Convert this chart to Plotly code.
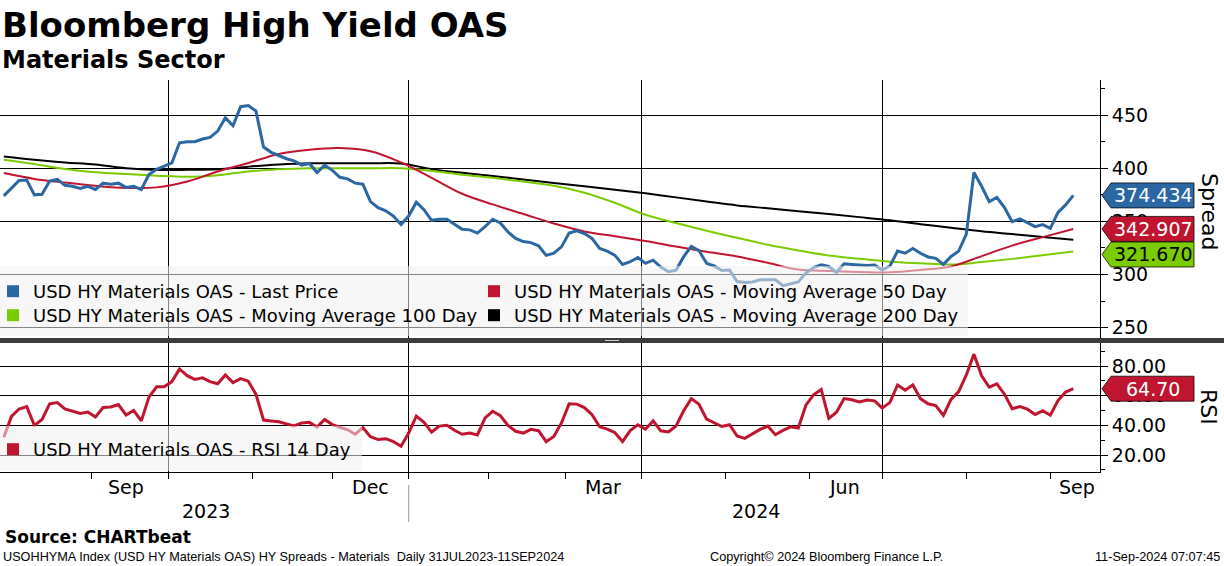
import pandas as pd
import plotly.graph_objects as go

# ---------------- data ----------------
HOLIDAYS = ["2023-09-04", "2023-11-23", "2023-12-25", "2024-01-01", "2024-01-15",
            "2024-02-19", "2024-03-29", "2024-05-27", "2024-06-19", "2024-07-04",
            "2024-09-02"]
START, END, AXIS_END = "2023-07-31", "2024-09-11", "2024-09-20"

cal = pd.bdate_range(START, AXIS_END)
cal = cal[~cal.isin(pd.to_datetime(HOLIDAYS))]
trading = cal[cal <= pd.Timestamp(END)]
PRICE_DATES = trading[1::2]
MA_DATES = trading[1::8]

PRICE = [374, 381, 388.5, 389, 375, 375.5, 388, 389.5, 384, 383, 381, 383, 380, 386, 385,
         386, 382, 383, 380, 394, 399, 402, 405, 424, 425, 425, 427.5, 429, 435, 447.5,
         440, 458, 459, 454, 420, 415, 412, 409, 407, 403, 404.5, 396, 403, 398, 391.5,
         390, 386, 385, 368.6, 363, 360, 355, 347, 355, 368, 361, 351, 352, 352, 347,
         342.5, 342, 339, 345, 352, 348.5, 340, 334, 331, 330, 327, 318, 320, 326, 339,
         341, 338.5, 334, 324.5, 322, 318, 309.5, 312, 316, 310.5, 313.5, 307, 302.6, 304, 316.8,
         326.5, 322.5, 310.5, 308, 303.8, 304.2, 293.3, 292.5, 293, 295, 295, 295, 289.5, 291.2, 293,
         301.3, 306.5, 309, 307.5, 302, 310, 309.5, 308.8, 308.5, 309, 304.2, 308, 322, 320, 324.5,
         320, 316.5, 315.2, 309.5, 317, 322, 338, 396, 383, 368.6, 372.5, 363, 349.7, 352.3, 348.8,
         345, 347, 343.5, 358.5, 365.5, 374.434]

RSI = [32, 46, 51, 52.6, 40, 44, 54.5, 55.3, 51, 49.5, 48, 49, 45.6, 52, 52.4,
       54, 47, 50, 43, 59, 66, 66, 69.5, 78, 73.5, 71, 72, 69.5, 68, 74,
       68.8, 71.5, 69.8, 61, 43.6, 43, 42.4, 41, 39.6, 41.6, 42, 38.8, 44, 40.5, 39,
       37, 34, 38.5, 32.4, 30.4, 31, 29, 25.9, 34.8, 46.2, 42, 35.4, 39.5, 40, 36.7,
       34, 34.8, 33.5, 45, 49.5, 46.5, 40, 36, 34.8, 37.3, 36.4, 29, 32.5, 41.6, 54.5,
       54.3, 52, 47.2, 39, 37.5, 35, 29, 36.5, 40.3, 37.4, 43, 36.3, 35.5, 39.6, 49.8,
       58, 54.2, 44.2, 41.8, 39.2, 40.4, 32.8, 31.2, 34.3, 37.3, 39.5, 33.7, 36.6, 39, 38.2,
       53.6, 60.6, 64.2, 44.7, 48.8, 58, 57.2, 55.7, 57.1, 56.5, 51.6, 55.5, 67.2, 63.7, 67.2,
       58, 54.5, 53.3, 46.7, 57.5, 62.7, 74, 88, 73.4, 65.7, 67.9, 61, 51.2, 52.6, 50.9,
       47.3, 49.8, 46.8, 56.7, 62.4, 64.7]

MA50 = [395.5, 390, 386.5, 383.5, 381.5, 382, 387.5, 397, 405, 413.5, 417.5, 419,
        416, 405.5, 391, 376, 366, 357, 348, 340.5, 336, 331.6, 326.3, 321.3, 317, 311,
        304.6, 303.2, 302.4, 302, 304.2, 307.5, 317.3, 327.2, 335.2, 342.907]
MA100 = [408, 404, 399.3, 396.3, 394.5, 393, 392, 393.5, 397, 399, 400, 400,
         400, 400, 397.5, 394, 391, 387.5, 383.5, 377, 367.5, 356.2, 348.4, 341.2, 334.5, 328,
         322.6, 317.8, 314.8, 312, 310.5, 309.3, 311.7, 314.7, 318.2, 321.670]
MA200 = [411, 408, 405.5, 403.5, 400, 398.4, 398.5, 399, 401.5, 403.5, 404.7, 404.7,
         404.7, 404.5, 399.2, 395.7, 392.8, 389.5, 386.2, 383, 379.7, 376.4, 372.6, 368.7, 365, 362.3,
         359.6, 356.9, 354, 351, 347.4, 344, 340.7, 338, 335.3, 332.6]

SERIES_NAMES = ["USD HY Materials OAS - Last Price",
                "USD HY Materials OAS - Moving Average 50 Day",
                "USD HY Materials OAS - Moving Average 100 Day",
                "USD HY Materials OAS - Moving Average 200 Day"]
RSI_NAME = "USD HY Materials OAS - RSI 14 Day"

SPREAD_TICKS = [250, 300, 350, 400, 450]
RSI_TICKS = [20, 40, 60, 80]
MONTH_LABELS = [("2023-09-15", "Sep"), ("2023-12-15", "Dec"), ("2024-03-15", "Mar"),
                ("2024-06-14", "Jun"), ("2024-09-12", "Sep")]
YEAR_LABELS = [("2023-10-16", "2023"), ("2024-05-13", "2024")]

# ---------------- styling ----------------
BLUE, RED, GREEN, BLACK = "#2a67a3", "#c0152f", "#7acc00", "#000000"
FONT = "DejaVu Sans"
W, H = 1224, 566
ML, MR, MT, MB = 0, 124, 80, 94
PW, PH = W - ML - MR, H - MT - MB


def px(x):  # pixel -> paper x
    return (x - ML) / PW


def py(y):  # pixel -> paper y
    return (H - MB - y) / PH


# axis helpers (first trading day of each month / quarter)
months = pd.Series(cal).groupby([cal.year, cal.month]).min()
month_starts = [d for d in months if d >= pd.Timestamp("2023-09-01")]
quarter_starts = [d for d in month_starts if d.month in (1, 4, 7, 10)]

fig = go.Figure()

fig.add_trace(go.Scatter(x=MA_DATES, y=MA200, mode="lines", line=dict(color=BLACK, width=2),
                         line_shape="spline", showlegend=False, xaxis="x", yaxis="y"))
fig.add_trace(go.Scatter(x=MA_DATES, y=MA100, mode="lines", line=dict(color=GREEN, width=2),
                         line_shape="spline", showlegend=False, xaxis="x", yaxis="y"))
fig.add_trace(go.Scatter(x=MA_DATES, y=MA50, mode="lines", line=dict(color=RED, width=2),
                         line_shape="spline", showlegend=False, xaxis="x", yaxis="y"))
fig.add_trace(go.Scatter(x=PRICE_DATES, y=PRICE, mode="lines", line=dict(color=BLUE, width=3),
                         showlegend=False, xaxis="x", yaxis="y"))
fig.add_trace(go.Scatter(x=PRICE_DATES, y=RSI, mode="lines", line=dict(color=RED, width=3),
                         showlegend=False, xaxis="x2", yaxis="y2"))

# legend entries (square swatches), one small legend box per entry
IND = -7          # legend indentation (px)
TXT_OFF = 40 + IND
LEGEND_POS = [(33, 291), (514, 291), (33, 315), (514, 315)]  # text start x, row centre y (px)
legend_layout = {}
for i, (name, col, (tx, ty)) in enumerate(zip(SERIES_NAMES, [BLUE, RED, GREEN, BLACK],
                                               LEGEND_POS)):
    key = "legend" if i == 0 else f"legend{i + 2}"
    fig.add_trace(go.Scatter(x=[None], y=[None], mode="markers", name=name,
                             marker=dict(symbol="square", size=12, color=col),
                             legend=key, xaxis="x", yaxis="y"))
    legend_layout[key] = dict(x=max(px(tx - TXT_OFF), 0), xanchor="left", y=py(ty - 18),
                              yanchor="top", indentation=IND, bgcolor="rgba(0,0,0,0)",
                              font=dict(family=FONT, size=18, color="black"),
                              itemclick=False)
fig.add_trace(go.Scatter(x=[None], y=[None], mode="markers", name=RSI_NAME,
                         marker=dict(symbol="square", size=12, color=RED),
                         legend="legend2", xaxis="x2", yaxis="y2"))
legend_layout["legend2"] = dict(x=0, xanchor="left", y=py(449 - 18), yanchor="top",
                                indentation=IND, bgcolor="rgba(0,0,0,0)",
                                font=dict(family=FONT, size=18, color="black"),
                                itemclick=False)

rb = [dict(bounds=["sat", "mon"]), dict(values=HOLIDAYS)]
xcommon = dict(range=[START, AXIS_END], rangebreaks=rb, tickmode="array",
               tickvals=quarter_starts, showgrid=True, gridcolor="black", gridwidth=1,
               showticklabels=False, zeroline=False)

fig.update_layout(
    width=W, height=H, margin=dict(l=ML, r=MR, t=MT, b=MB, autoexpand=False),
    paper_bgcolor="white", plot_bgcolor="white",
    font=dict(family=FONT, color="black", size=18),
    xaxis=dict(**xcommon, anchor="y", ticks="", matches="x2"),
    xaxis2=dict(**xcommon, anchor="y2", ticks="outside", ticklen=6, tickcolor="black",
                showline=True, linecolor="black", linewidth=1,
                minor=dict(tickmode="array", tickvals=month_starts, ticks="outside",
                           ticklen=6, tickcolor="black", showgrid=False)),
    yaxis=dict(domain=[py(338), 1], range=[240.2, 483.1], side="right", anchor="x",
               tickmode="array", tickvals=SPREAD_TICKS, showgrid=True, gridcolor="black",
               gridwidth=1, ticks="outside", ticklen=7, tickcolor="black", showline=True,
               linecolor="black", linewidth=1, zeroline=False,
               tickfont=dict(family=FONT, size=19, color="black"),
               minor=dict(dtick=25, tick0=0, ticks="outside", ticklen=4, tickcolor="black",
                          showgrid=False)),
    yaxis2=dict(domain=[0, py(343)], range=[8.55, 95.5], side="right", anchor="x2",
                tickmode="array", tickvals=RSI_TICKS, ticktext=[f"{v:.2f}" for v in RSI_TICKS],
                showgrid=True, gridcolor="black", gridwidth=1, ticks="outside", ticklen=7,
                tickcolor="black", showline=True, linecolor="black", linewidth=1,
                zeroline=False, tickfont=dict(family=FONT, size=19, color="black"),
                minor=dict(dtick=10, tick0=0, ticks="outside", ticklen=4, tickcolor="black",
                           showgrid=False)),
    showlegend=True,
    hovermode=False,
    **legend_layout,
)

shapes = []
# translucent legend panels
shapes.append(dict(type="rect", xref="paper", yref="paper", x0=px(0), x1=px(968),
                   y0=py(336), y1=py(266), fillcolor="rgba(240,240,240,0.55)",
                   line=dict(width=0), layer="above"))
shapes.append(dict(type="rect", xref="paper", yref="paper", x0=px(0), x1=px(362),
                   y0=py(471), y1=py(426), fillcolor="rgba(240,240,240,0.55)",
                   line=dict(width=0), layer="above"))
# panel separator
shapes.append(dict(type="rect", xref="paper", yref="paper", x0=px(0), x1=px(W),
                   y0=py(343), y1=py(338), fillcolor="#3c3c3c", line=dict(width=0),
                   layer="above"))
shapes.append(dict(type="line", xref="paper", yref="paper", x0=px(605), x1=px(619),
                   y0=py(340.5), y1=py(340.5), line=dict(color="#c8c8c8", width=1),
                   layer="above"))
# year divider under the axis
shapes.append(dict(type="line", xref="x2", yref="paper", x0=quarter_starts[1],
                   x1=quarter_starts[1], y0=py(485), y1=py(522),
                   line=dict(color="#9a9a9a", width=1), layer="above"))


def tag(value, yref, fill, txtcol, text, dy=0):
    path = (f"M 2,{dy} L 11,{dy + 12.5} L 94,{dy + 12.5} L 94,{dy - 12.5} "
            f"L 11,{dy - 12.5} Z")
    shapes.append(dict(type="path", xref="paper", yref=yref, xsizemode="pixel",
                       ysizemode="pixel", xanchor=1, yanchor=value, path=path,
                       fillcolor=fill, line=dict(color="rgba(0,0,0,0.75)", width=1),
                       layer="above"))
    return dict(x=1, xref="paper", y=value, yref=yref, xanchor="center", yanchor="middle",
                xshift=53, yshift=dy, text=text, showarrow=False,
                font=dict(family=FONT, size=19, color=txtcol))


annotations = [
    tag(PRICE[-1], "y", BLUE, "white", f"{PRICE[-1]:.3f}"),
    tag(MA50[-1], "y", RED, "white", f"{MA50[-1]:.3f}"),
    tag(MA100[-1], "y", GREEN, "black", f"{MA100[-1]:.3f}", dy=-3),
    tag(RSI[-1], "y2", RED, "white", f"{RSI[-1]:.2f}"),
]

annotations += [
    dict(x=px(0), y=py(24.5), xref="paper", yref="paper", xanchor="left", yanchor="middle",
         text="<b>Bloomberg High Yield OAS</b>", showarrow=False,
         font=dict(family=FONT, size=34, color="black")),
    dict(x=px(0), y=py(60), xref="paper", yref="paper", xanchor="left", yanchor="middle",
         text="<b>Materials Sector</b>", showarrow=False,
         font=dict(family=FONT, size=24, color="black")),
    dict(x=px(1209), y=py(211), xref="paper", yref="paper", xanchor="center",
         yanchor="middle", text="Spread", textangle=90, showarrow=False,
         font=dict(family=FONT, size=22, color="black")),
    dict(x=px(1209), y=py(407), xref="paper", yref="paper", xanchor="center",
         yanchor="middle", text="RSI", textangle=90, showarrow=False,
         font=dict(family=FONT, size=22, color="black")),
    dict(x=px(3), y=py(537), xref="paper", yref="paper", xanchor="left", yanchor="middle",
         text="<b>Source: CHARTbeat</b>", showarrow=False,
         font=dict(family=FONT, size=17, color="black")),
    dict(x=px(1), y=py(557), xref="paper", yref="paper", xanchor="left", yanchor="middle",
         text="USOHHYMA Index (USD HY Materials OAS) HY Spreads - Materials \u00a0Daily "
              "31JUL2023-11SEP2024", showarrow=False,
         font=dict(family="Liberation Sans", size=12.7, color="black")),
    dict(x=px(826), y=py(557), xref="paper", yref="paper", xanchor="center",
         yanchor="middle", text="Copyright\u00a9 2024 Bloomberg Finance L.P.",
         showarrow=False, font=dict(family="Liberation Sans", size=12.7, color="black")),
    dict(x=px(1222), y=py(557), xref="paper", yref="paper", xanchor="right",
         yanchor="middle", text="11-Sep-2024 07:07:45", showarrow=False,
         font=dict(family="Liberation Sans", size=12.7, color="black")),
]
for d, lab in MONTH_LABELS:
    annotations.append(dict(x=d, xref="x2", y=py(487), yref="paper", text=lab,
                            showarrow=False, xanchor="center", yanchor="middle",
                            font=dict(family=FONT, size=19, color="black")))
for d, lab in YEAR_LABELS:
    annotations.append(dict(x=d, xref="x2", y=py(511), yref="paper", text=lab,
                            showarrow=False, xanchor="center", yanchor="middle",
                            font=dict(family=FONT, size=19, color="black")))

fig.update_layout(shapes=shapes, annotations=annotations)
fig.write_html("out.html", config={"displayModeBar": False},
               post_script="document.body.style.margin='0px';"
                           "document.body.style.overflow='hidden';")
